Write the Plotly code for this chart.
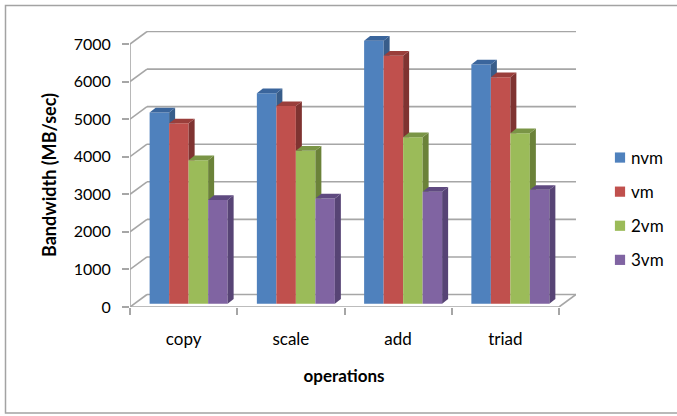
import plotly.graph_objects as go

categories = ["copy", "scale", "add", "triad"]
series_names = ["nvm", "vm", "2vm", "3vm"]
nvm = [5090, 5600, 7000, 6370]
vm = [4800, 5260, 6600, 6030]
vm2 = [3820, 4070, 4430, 4540]
vm3 = [2760, 2800, 2980, 3030]
y_ticks = [0, 1000, 2000, 3000, 4000, 5000, 6000, 7000]
front_colors = ["#4F81BD", "#C0504D", "#9BBB59", "#8064A2"]
side_colors = ["#385D8A", "#7F3331", "#6B8239", "#574475"]
top_colors = ["#3A659C", "#9A3E3B", "#7A9546", "#5F4A80"]

values = [nvm, vm, vm2, vm3]
W, H = 677, 416
L, R, T, B = 130, 576, 31, 307
PX_PER_CAT = 107.25
PX_PER_UNIT = 0.03757
px_x = lambda p: p / PX_PER_CAT
px_y = lambda p: p / PX_PER_UNIT

x_pos = list(range(1, len(categories) + 1))
x0 = 0.5
x_end = x0 + (R - L) / PX_PER_CAT
y_end = (B - T) / PX_PER_UNIT
back_dx, back_dy = px_x(17), px_y(12.5)
bar_w = px_x(19.5)
group_shift = px_x(5)
base = px_y(3.3)
dep_x, dep_y = px_x(6), px_y(4.7)
n_s = len(values)

fig = go.Figure()
for s, name in enumerate(series_names):
    left_off = group_shift + (s - n_s / 2) * bar_w
    fig.add_trace(go.Bar(x=x_pos, y=values[s], base=base, offset=left_off, width=bar_w,
                         name=name, legendgroup=name,
                         marker=dict(color=front_colors[s], line_width=0)))

# Side and top faces of the bars, derived from the same values
for s in range(n_s):
    left_off = group_shift + (s - n_s / 2) * bar_w
    for i, xc in enumerate(x_pos):
        l = xc + left_off
        r = l + bar_w
        top = values[s][i] + base
        low = values[s + 1][i] + base if s < n_s - 1 else base
        drop = 0 if s < n_s - 1 else dep_y
        fig.add_trace(go.Scatter(
            x=[r, r + dep_x, r + dep_x, r, r],
            y=[top, top + dep_y, low + drop, low, top],
            mode="lines", fill="toself", fillcolor=side_colors[s], line=dict(width=0),
            hoverinfo="skip", showlegend=False))
        fig.add_trace(go.Scatter(
            x=[l, l + dep_x, r + dep_x, r, l],
            y=[top, top + dep_y, top + dep_y, top, top],
            mode="lines", fill="toself", fillcolor=top_colors[s], line=dict(width=0),
            hoverinfo="skip", showlegend=False))

GRID = "#a6a6a6"
grid_line = dict(color=GRID, width=1.6)
shapes = []
for v in y_ticks:
    shapes.append(dict(type="line", xref="x", yref="y", layer="below", x0=x0, y0=v,
                       x1=x0 + back_dx, y1=v + back_dy, line=grid_line))
    shapes.append(dict(type="line", xref="x", yref="y", layer="below", x0=x0 + back_dx, y0=v + back_dy,
                       x1=x_end, y1=v + back_dy, line=grid_line))
# front vertical axis, floor front edge, floor right edge
shapes.append(dict(type="line", xref="x", yref="y", layer="below", x0=x0, y0=0, x1=x0, y1=y_ticks[-1], line=grid_line))
shapes.append(dict(type="line", xref="x", yref="y", layer="below", x0=x0, y0=0, x1=x_end - back_dx, y1=0, line=grid_line))
shapes.append(dict(type="line", xref="x", yref="y", layer="below", x0=x_end - back_dx, y0=0, x1=x_end, y1=back_dy, line=grid_line))
# outer chart frame
fw = R - L
fh = B - T
to_px = lambda p: (p - L) / fw
to_py = lambda p: (B - p) / fh
shapes.append(dict(type="rect", xref="paper", yref="paper", layer="below",
                   x0=to_px(5.5), x1=to_px(700), y0=to_py(413), y1=to_py(5.5),
                   line=dict(color="#a3a3a3", width=1.5)))

FONT = "Lato, Carlito, Calibri, sans-serif"
fig.update_layout(
    width=W, height=H, autosize=False,
    margin=dict(l=L, r=W - R, t=T, b=H - B, pad=0, autoexpand=False),
    paper_bgcolor="white", plot_bgcolor="rgba(0,0,0,0)",
    barmode="overlay", shapes=shapes,
    font=dict(family=FONT, color="#000000", size=17),
    xaxis=dict(range=[x0, x_end], tickmode="array", tickvals=x_pos, ticktext=categories,
               ticks="", showgrid=False, zeroline=False, showline=False,
               tickfont=dict(size=17), ticklabelstandoff=20,
               minor=dict(tick0=0.5, dtick=1, ticks="outside", ticklen=7, tickwidth=1.6,
                          tickcolor=GRID, showgrid=False),
               title=dict(text="<b>operations</b>", font=dict(size=17), standoff=22)),
    yaxis=dict(range=[0, y_end], tickmode="array", tickvals=y_ticks, ticks="outside", ticklen=7,
               tickwidth=1.6, tickcolor=GRID, showgrid=False, zeroline=False, showline=False,
               tickfont=dict(size=16), ticklabelstandoff=8,
               title=dict(text="<b>Bandwidth (MB/sec)</b>", font=dict(size=18), standoff=12)),
    legend=dict(x=(620 - 20 - L) / fw, xanchor="left", y=to_py(140), yanchor="top",
                bgcolor="rgba(0,0,0,0)", font=dict(size=17), tracegroupgap=9,
                itemwidth=30, traceorder="grouped"),
    hovermode=False,
)
post = """
document.body.style.margin = '0';
document.querySelectorAll('.legendtext').forEach(function (t) { t.setAttribute('x', 31); });
document.querySelectorAll('.legendpoints path').forEach(function (p) {
  p.setAttribute('transform', (p.getAttribute('transform') || '') + ' scale(0.85)');
});
var xt = document.querySelector('.xtitle');
if (xt) { xt.setAttribute('transform', 'translate(-9,0) ' + (xt.getAttribute('transform') || '')); }
var yt = document.querySelector('.ytitle');
if (yt) { yt.setAttribute('transform', 'translate(0,6) ' + (yt.getAttribute('transform') || '')); }
"""
fig.write_html("out.html", config=dict(displayModeBar=False), post_script=post)
